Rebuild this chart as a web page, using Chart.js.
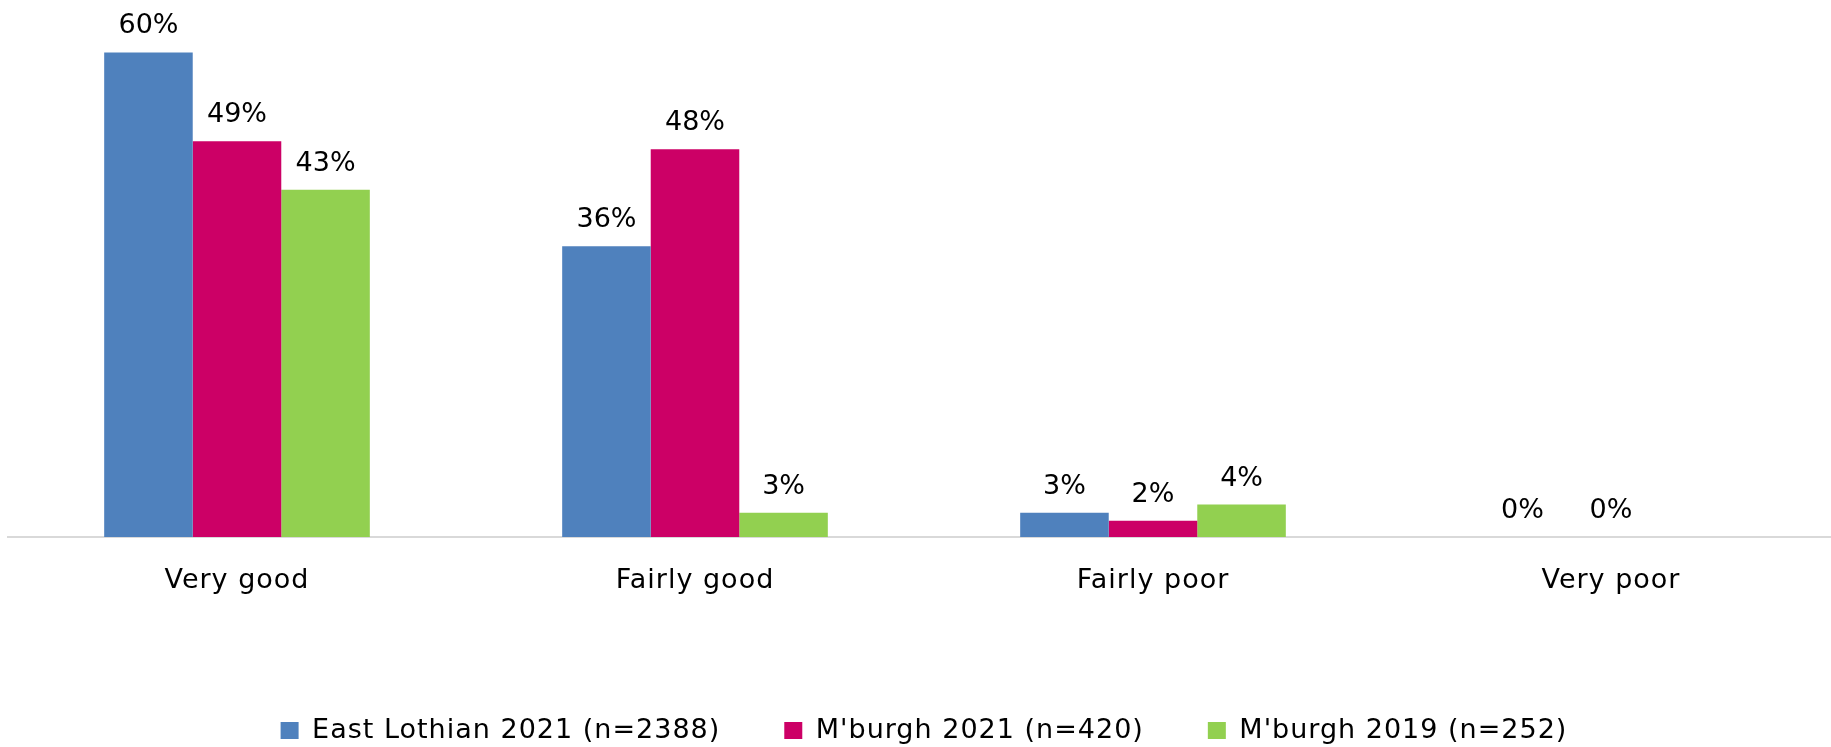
<!DOCTYPE html>
<html>
<head>
<meta charset="utf-8">
<title>Health rating chart</title>
<script src="https://cdn.jsdelivr.net/npm/chart.js@4.4.1/dist/chart.umd.min.js"></script>
<style>
    html, body { margin: 0; padding: 0; background: #fff; overflow: hidden; }
    #wrap { width: 1840px; height: 754px; }
</style>
</head>
<body>
<div id="wrap"><canvas id="ratingChart" width="1840" height="754"></canvas></div>
<script>
// Chart data
const categories = ['Very good', 'Fairly good', 'Fairly poor', 'Very poor'];
const seriesNames = ['East Lothian 2021 (n=2388)', "M'burgh 2021 (n=420)", "M'burgh 2019 (n=252)"];
const eastLothian2021 = [60, 36, 3, 0];
const mburgh2021 = [49, 48, 2, 0];
const mburgh2019 = [43, 3, 4, null];
const seriesColours = ['#4F81BD', '#CC0066', '#92D050'];

const FONT = '"Century Gothic", "DejaVu Sans", sans-serif';

// Century Gothic is wider than the fallback, so space the letters a little
const widerText = {
    id: 'widerText',
    beforeLayout(chart) { chart.ctx.letterSpacing = '1px'; },
    beforeDraw(chart) { chart.ctx.letterSpacing = '1px'; }
};

// Value labels above each bar
const barLabels = {
    id: 'barLabels',
    afterDatasetsDraw(chart) {
        const ctx = chart.ctx;
        ctx.save();
        ctx.letterSpacing = '0px';
        ctx.font = '27px ' + FONT;
        ctx.fillStyle = '#000';
        ctx.textAlign = 'center';
        ctx.textBaseline = 'alphabetic';
        chart.data.datasets.forEach((ds, i) => {
            chart.getDatasetMeta(i).data.forEach((bar, j) => {
                const v = ds.data[j];
                if (v === null || v === undefined) return;
                ctx.fillText(v + '%', bar.x, bar.y - 19);
            });
        });
        ctx.restore();
    }
};

const ctx = document.getElementById('ratingChart').getContext('2d');
const ratingChart = new Chart(ctx, {
    type: 'bar',
    data: {
        labels: categories,
        datasets: [
            { label: seriesNames[0], data: eastLothian2021, backgroundColor: seriesColours[0] },
            { label: seriesNames[1], data: mburgh2021, backgroundColor: seriesColours[1] },
            { label: seriesNames[2], data: mburgh2019, backgroundColor: seriesColours[2] }
        ]
    },
    options: {
        responsive: false,
        animation: false,
        events: [],
        layout: { padding: { top: 12, left: 8, right: 0, bottom: 0 } },
        datasets: {
            bar: { categoryPercentage: 0.58, barPercentage: 1.0 }
        },
        scales: {
            x: {
                grid: { display: false, drawTicks: false },
                border: { display: true, color: '#d9d9d9', width: 2 },
                ticks: { color: '#000', padding: 28, font: { family: FONT, size: 27 } }
            },
            y: {
                display: false,
                min: 0,
                max: 65
            }
        },
        plugins: {
            tooltip: { enabled: false },
            legend: {
                position: 'bottom',
                title: { display: true, text: '', padding: { top: 15.7, bottom: 0 }, font: { size: 10 } },
                labels: {
                    color: '#000',
                    boxWidth: 18,
                    boxHeight: 17,
                    padding: 64,
                    font: { family: FONT, size: 27 }
                }
            }
        }
    },
    plugins: [widerText, barLabels]
});
</script>
</body>
</html>
